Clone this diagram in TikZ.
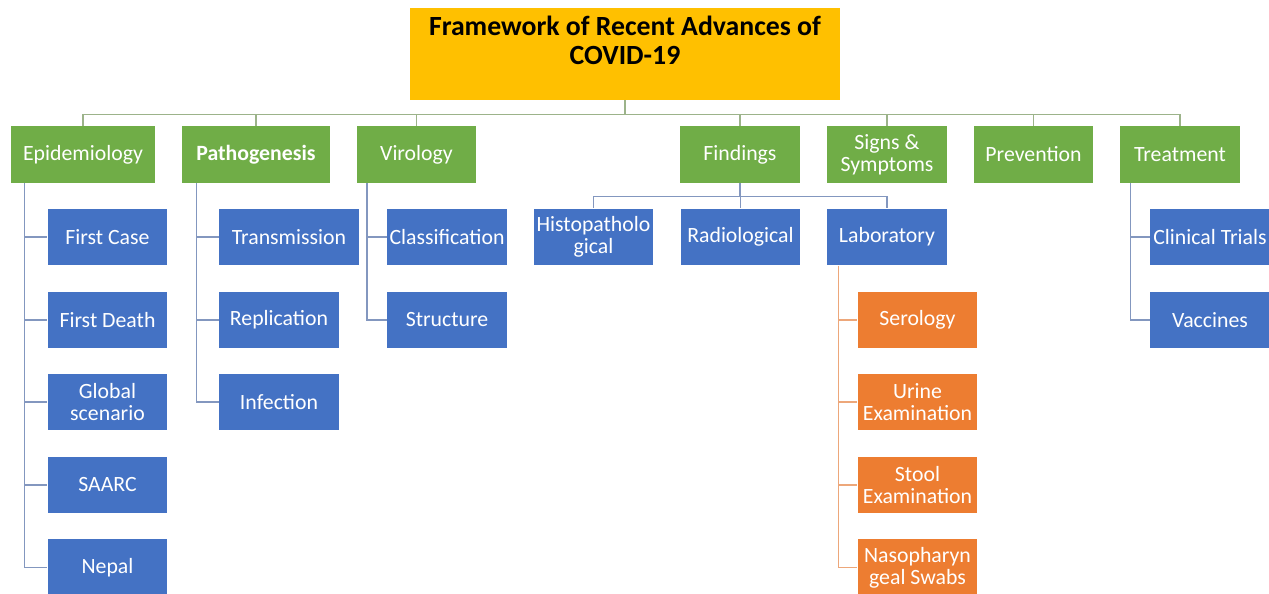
\documentclass[tikz,border=0pt]{standalone}
\usepackage{fontspec}
\setmainfont{Carlito}
\usetikzlibrary{positioning}

\definecolor{titlegold}{HTML}{FFC000}
\definecolor{catgreen}{HTML}{70AD47}
\definecolor{subblue}{HTML}{4472C4}
\definecolor{laborange}{HTML}{ED7D31}
\definecolor{linegreen}{HTML}{9CB38A}
\definecolor{lineblue}{HTML}{8397BF}
\definecolor{lineorange}{HTML}{EDA77A}

\tikzset{
  box/.style={rectangle, minimum width=2.4cm, minimum height=1.14cm,
    inner sep=1pt, align=center, text=white,
    font=\fontsize{12.4}{12.6}\selectfont},
  catbox/.style={box, fill=catgreen},
  subbox/.style={box, fill=subblue},
  labbox/.style={box, fill=laborange},
  topline/.style={draw=linegreen, line width=0.8pt},
  bluelink/.style={draw=lineblue, line width=0.8pt},
  orangelink/.style={draw=lineorange, line width=0.8pt}
}

\begin{document}
\begin{tikzpicture}[x=0.02cm, y=-0.02cm]
    \useasboundingbox (0,0) rectangle (1269,594);

    % Title box
    \node[fill=titlegold, minimum width=8.6cm, minimum height=1.84cm] (title) at (625,54) {};
    \node[align=center, font=\fontsize{15.8}{16.5}\selectfont\bfseries] (heading) at (625,40)
        {Framework of Recent Advances of\\COVID-19};

    % Main categories
    \node[catbox, minimum width=2.88cm] (epi) at (83,154.5) {Epidemiology};
    \node[catbox, minimum width=2.96cm, font=\fontsize{12.4}{12.6}\selectfont\bfseries] (patho) at (256,154.5) {Pathogenesis};
    \node[catbox] (viro) at (416.5,154.5) {Virology};
    \node[catbox] (find) at (740,154.5) {Findings};
    \node[catbox] (signs) at (887,154.5) {Signs \&\\Symptoms};
    \node[catbox] (prev) at (1033.5,154.5) {Prevention};
    \node[catbox] (treat) at (1180,154.5) {Treatment};

    % Epidemiology
    \node[subbox] (fcase) at (107.5,237) {First Case};
    \node[subbox] (fdeath) at (107.5,320) {First Death};
    \node[subbox] (global) at (107.5,402) {Global\\scenario};
    \node[subbox] (saarc) at (107.5,485) {SAARC};
    \node[subbox] (nepal) at (107.5,567.5) {Nepal};

    % Pathogenesis
    \node[subbox, minimum width=2.8cm] (transm) at (289,237) {Transmission};
    \node[subbox] (replic) at (279,320) {Replication};
    \node[subbox] (infect) at (279,402) {Infection};

    % Virology
    \node[subbox] (classif) at (447,237) {Classification};
    \node[subbox] (struct) at (447,320) {Structure};

    % Findings
    \node[subbox] (histo) at (593.5,237) {Histopatholo\\gical};
    \node[subbox] (radio) at (740.5,237) {Radiological};
    \node[subbox] (lab) at (887,237) {Laboratory};

    % Laboratory
    \node[labbox] (sero) at (917.5,320) {Serology};
    \node[labbox] (urine) at (917.5,402) {Urine\\Examination};
    \node[labbox] (stool) at (917.5,485) {Stool\\Examination};
    \node[labbox] (naso) at (917.5,567.5) {Nasopharyn\\geal Swabs};

    % Treatment
    \node[subbox] (trials) at (1210,237) {Clinical Trials};
    \node[subbox] (vacc) at (1210,320) {Vaccines};

    % Connectors
    \foreach \c in {epi,patho,viro,find,signs,prev,treat}
        \draw[topline] (title.south) -- ++(0,14) -| (\c.north);
    \foreach \c in {fcase,fdeath,global,saarc,nepal}
        \draw[bluelink] (epi.south west) ++(14,0) |- (\c.west);
    \foreach \c in {transm,replic,infect}
        \draw[bluelink] (patho.south west) ++(15,0) |- (\c.west);
    \foreach \c in {classif,struct}
        \draw[bluelink] (viro.south west) ++(11,0) |- (\c.west);
    \foreach \c in {histo,radio,lab}
        \draw[bluelink] (find.south) -- ++(0,13) -| (\c.north);
    \foreach \c in {sero,urine,stool,naso}
        \draw[orangelink] (lab.south west) ++(12,0) |- (\c.west);
    \foreach \c in {trials,vacc}
        \draw[bluelink] (treat.south west) ++(11,0) |- (\c.west);
\end{tikzpicture}
\end{document}
